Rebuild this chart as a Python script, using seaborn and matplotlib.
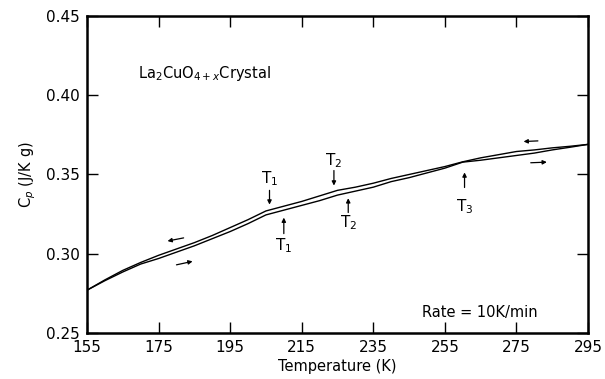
import matplotlib
matplotlib.use("Agg")
import matplotlib.pyplot as plt
import seaborn as sns
import pandas as pd

temperature = [155, 160, 165, 170, 175, 180, 185, 190, 195, 200, 205, 210, 215, 220,
               225, 230, 235, 240, 245, 250, 255, 260, 265, 270, 275, 280, 285, 290, 295]
cp_cooling = [0.2770, 0.2835, 0.2895, 0.2945, 0.2990, 0.3030, 0.3070, 0.3115, 0.3165,
              0.3215, 0.3270, 0.3300, 0.3330, 0.3365, 0.3400, 0.3420, 0.3445, 0.3475,
              0.3500, 0.3525, 0.3550, 0.3580, 0.3605, 0.3625, 0.3645, 0.3655, 0.3668,
              0.3678, 0.3690]
cp_heating = [0.2770, 0.2830, 0.2885, 0.2935, 0.2970, 0.3010, 0.3050, 0.3095, 0.3140,
              0.3190, 0.3245, 0.3275, 0.3305, 0.3335, 0.3370, 0.3395, 0.3420, 0.3455,
              0.3480, 0.3510, 0.3540, 0.3578, 0.3590, 0.3605, 0.3620, 0.3635, 0.3655,
              0.3672, 0.3690]

x_ticks = [155, 175, 195, 215, 235, 255, 275, 295]
y_ticks = [0.25, 0.30, 0.35, 0.40, 0.45]

# transition markers: (label, x, arrow start y, arrow end y, label y)
markers = [
    ("T$_1$", 206, 0.3400, 0.3310, 0.3475),
    ("T$_1$", 210, 0.3127, 0.3228, 0.3050),
    ("T$_2$", 224, 0.3525, 0.3430, 0.3590),
    ("T$_2$", 228, 0.3260, 0.3350, 0.3196),
    ("T$_3$", 260.5, 0.3418, 0.3513, 0.3300),
]
# direction arrows: (x start, x end, y start, y end)
dir_arrows = [
    (182, 177.5, 0.3100, 0.3080),
    (180, 184.5, 0.2930, 0.2952),
    (281, 277, 0.3712, 0.3708),
    (279, 283.5, 0.3574, 0.3578),
]

df = pd.concat([
    pd.DataFrame({"T": temperature, "Cp": cp_cooling, "run": "cooling"}),
    pd.DataFrame({"T": temperature, "Cp": cp_heating, "run": "heating"}),
])

sns.set_style("ticks")
plt.rcParams["font.family"] = ["DejaVu Sans"]
plt.rcParams["text.color"] = "black"
plt.rcParams["axes.labelcolor"] = "black"
plt.rcParams["xtick.color"] = "black"
plt.rcParams["ytick.color"] = "black"
plt.rcParams["axes.edgecolor"] = "black"

fig = plt.figure(figsize=(6.05, 3.79), dpi=100)
ax = fig.add_axes([0.1438, 0.1214, 0.8281, 0.8364])

sns.lineplot(data=df, x="T", y="Cp", hue="run", palette=["black", "black"],
             linewidth=1.0, legend=False, ax=ax, estimator=None, sort=False)

ax.set_xlim(155, 295)
ax.set_ylim(0.25, 0.45)
ax.set_xticks(x_ticks)
ax.set_xticklabels([str(t) for t in x_ticks])
ax.set_yticks(y_ticks)
ax.set_yticklabels([f"{v:.2f}" for v in y_ticks])
ax.tick_params(direction="in", length=8, width=1.0, top=True, right=True,
               labelsize=11, pad=5, colors="black")
for s in ax.spines.values():
    s.set_linewidth(1.8)
    s.set_color("black")
    s.set_visible(True)

ax.set_xlabel("Temperature (K)", fontsize=10.5, labelpad=3)
ax.set_ylabel("C$_p$ (J/K g)", fontsize=10.5, labelpad=6)

for lab, x, y0, y1, ly in markers:
    ax.annotate("", xy=(x, y1), xytext=(x, y0),
                arrowprops=dict(arrowstyle="-|>", color="black", lw=0.9,
                                mutation_scale=6, shrinkA=0, shrinkB=0))
    ax.text(x, ly, lab, ha="center", va="center", fontsize=11)

for x0, x1, y0, y1 in dir_arrows:
    ax.annotate("", xy=(x1, y1), xytext=(x0, y0),
                arrowprops=dict(arrowstyle="-|>", color="black", lw=0.9,
                                mutation_scale=6, shrinkA=0, shrinkB=0))

ax.text(169.2, 0.4135, "La$_2$CuO$_{4+x}$Crystal", ha="left", va="center", fontsize=10.5)
ax.text(248.6, 0.2627, "Rate = 10K/min", ha="left", va="center", fontsize=10.5)

fig.savefig("out.png", dpi=100, facecolor="white")
